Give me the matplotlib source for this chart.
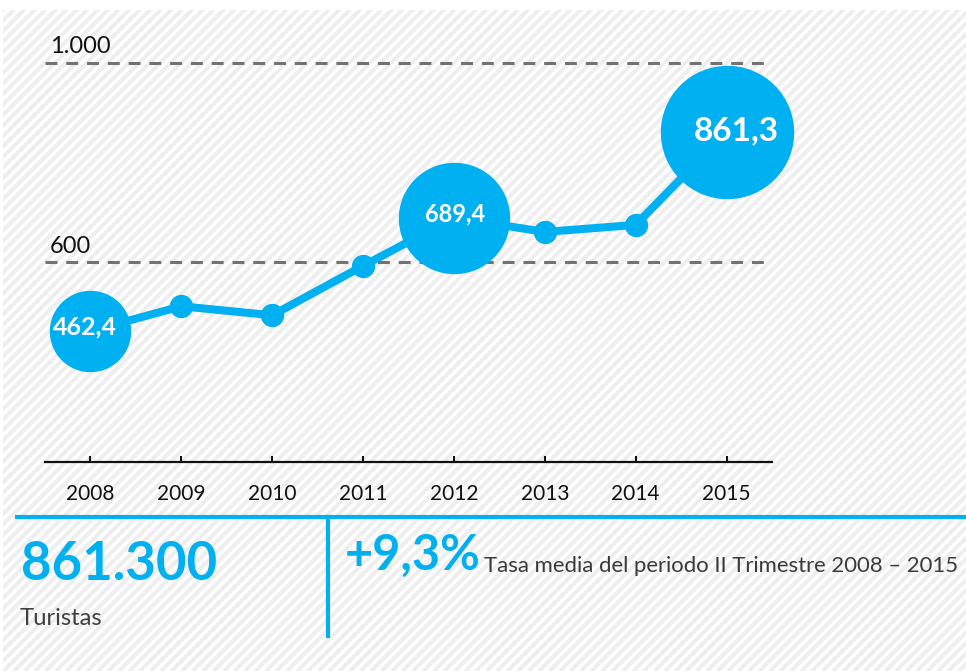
import numpy as np
import matplotlib
matplotlib.use("Agg")
import matplotlib.pyplot as plt
from matplotlib.collections import LineCollection
from matplotlib.patches import Rectangle

plt.rcParams['font.family'] = ['Lato', 'DejaVu Sans']

# data
years = ['2008', '2009', '2010', '2011', '2012', '2013', '2014', '2015']
turistas = [462.4, 512, 494, 593, 689.4, 661, 675, 861.3]   # miles, II trimestre
ref_lines = [600, 1000]
ref_labels = ['600', '1.000']
labelled = {0: '462,4', 4: '689,4', 7: '861,3'}
total_txt = '861.300'
total_sub = 'Turistas'
tasa_txt = '+9,3%'
tasa_sub = 'Tasa media del periodo II Trimestre 2008 \u2013 2015'

BLUE = '#00b0f0'
W, H = 966, 671

fig = plt.figure(figsize=(W / 100, H / 100), dpi=100)

# striped background
bg = fig.add_axes([0, 0, 1, 1], zorder=0)
bg.set_xlim(0, W)
bg.set_ylim(H, 0)
bg.axis('off')
segs = []
for c in np.arange(-700, W + 20, 10.5):
    segs.append([(c, H), (c + H, 0)])
lc = LineCollection(segs, colors='#eeeeee', linewidths=2.8)
bg.add_collection(lc)
clip = Rectangle((3, 10), W - 3, H - 10, transform=bg.transData, facecolor='none', edgecolor='none')
bg.add_patch(clip)
lc.set_clip_path(clip)

# main chart
ax = fig.add_axes([45 / W, 1 - 462 / H, 727 / W, (462 - 12.8) / H], zorder=1)
ax.patch.set_alpha(0)
x = np.arange(len(years))
ax.set_xlim(-0.5, len(years) - 0.5)
ax.set_ylim(200, 1100)

for v, lab in zip(ref_lines, ref_labels):
    ax.plot([-0.5, len(years) - 0.5], [v, v], color='#767171', lw=2.2,
            dashes=(3.9, 2.9), solid_capstyle='butt', zorder=1)
    ax.annotate(lab, xy=(-0.5, v), xytext=(3.6, 7), textcoords='offset points',
                fontsize=17, color='#111111', va='baseline', ha='left')

ax.plot(x, turistas, color=BLUE, lw=5.8, marker='o', ms=15.8, zorder=2, clip_on=False)

big_r = {0: 40, 4: 55, 7: 66}          # bubble radius in px
txt_size = {0: 18, 4: 17, 7: 24}
txt_off = {0: (-4, 3), 4: (1, 3), 7: (7, 1)}
for i, lab in labelled.items():
    ax.plot(x[i], turistas[i], 'o', color=BLUE, ms=big_r[i] * 2 * 0.72, zorder=3, clip_on=False)
    ax.annotate(lab, xy=(x[i], turistas[i]), xytext=txt_off[i], textcoords='offset points',
                ha='center', va='center', color='white', fontsize=txt_size[i],
                fontweight='bold', zorder=4)

for s in ['top', 'right', 'left']:
    ax.spines[s].set_visible(False)
ax.spines['bottom'].set_linewidth(1.6)
ax.spines['bottom'].set_color('#111111')
ax.set_yticks([])
ax.set_xticks(x)
ax.set_xticklabels(years, fontsize=15, color='#111111')
ax.tick_params(axis='x', direction='in', length=4.5, width=1.5, color='#111111', pad=16)

# summary block
def px(xp, yp):
    return xp / W, 1 - yp / H

fig.add_artist(plt.Line2D([17 / W, 1], [1 - 517 / H, 1 - 517 / H], color=BLUE, lw=3))
fig.add_artist(plt.Line2D([328 / W, 328 / W], [1 - 517 / H, 1 - 636 / H], color=BLUE, lw=3))

fig.text(*px(21, 580), total_txt, fontsize=38, fontweight='bold', color=BLUE, va='baseline')
fig.text(*px(20, 625), total_sub, fontsize=17.2, color='#404040', va='baseline')
fig.text(*px(345, 570), tasa_txt, fontsize=35, fontweight='bold', color=BLUE, va='baseline')
fig.text(*px(484, 572), tasa_sub, fontsize=15.9, color='#3a3a3a', va='baseline')

fig.savefig('out.png', dpi=100)
